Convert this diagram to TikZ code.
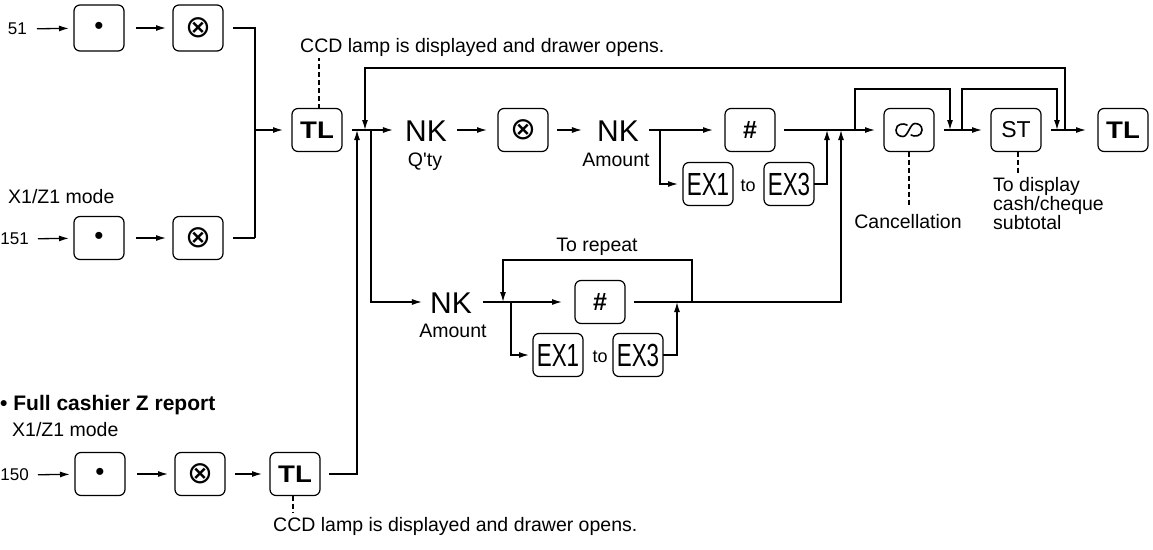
\documentclass[tikz,border=0pt]{standalone}
\usepackage{fontspec}
\setmainfont{Liberation Sans}
\newfontfamily\keyfont[FakeStretch=0.7]{Liberation Sans}
\newfontfamily\tlfont[FakeStretch=1.15]{Liberation Sans}
\newfontfamily\symfont{DejaVu Sans}
\usetikzlibrary{arrows.meta}
\begin{document}
\begin{tikzpicture}[x=1pt,y=-1pt,
  key/.style={draw, line width=1.2pt, rounded corners=6pt, minimum width=50pt, minimum height=43pt, inner sep=0pt, outer sep=0pt},
  ln/.style={line width=1.3pt},
  arr/.style={line width=1.3pt, -{Latex[length=10pt,width=6pt]}},
  dsh/.style={line width=1.2pt, dash pattern=on 5pt off 3pt},
  txt/.style={font=\fontsize{19.5}{19}\selectfont, inner sep=0pt},
  small/.style={font=\fontsize{17}{17}\selectfont, inner sep=0pt},
  nk/.style={font=\fontsize{30}{30}\selectfont, inner sep=0pt},
  dotk/.style={key, font=\fontsize{26}{26}\selectfont},
  mulk/.style={key, font=\symfont\fontsize{31}{31}\selectfont},
  hashk/.style={key, font=\bfseries\fontsize{25}{25}\selectfont},
  tlk/.style={key, font=\tlfont\bfseries\fontsize{24}{24}\selectfont},
  exk/.style={key, font=\keyfont\fontsize{32}{32}\selectfont},
  tolbl/.style={inner sep=0pt, font=\fontsize{18}{18}\selectfont},
  ]
\useasboundingbox (0,0) rectangle (1153,549);

% ---------- row 1 ----------
\node[small, anchor=east] (n51) at (27,29) {51};
\node[dotk, minimum height=46pt] (dot1) at (99,28) {•};
\node[mulk, minimum height=46pt] (mul1) at (198,28) {⊗};
\draw[arr, shorten <=10pt, shorten >=5pt] (n51) -- (dot1);
\draw[arr, shorten <=12pt, shorten >=7pt] (dot1) -- (mul1);

% ---------- row 2 ----------
\node[txt, anchor=base west] (mode1) at (8,203) {X1/Z1 mode};
\node[small, anchor=east] (n151) at (29,239) {151};
\node[dotk] (dot2) at (99,238) {•};
\node[mulk] (mul2) at (198,238) {⊗};
\draw[arr, shorten <=9pt, shorten >=5pt] (n151) -- (dot2);
\draw[arr, shorten <=12pt, shorten >=7pt] (dot2) -- (mul2);

\coordinate (c1) at (255,28);
\coordinate (c2) at (255,238);
\coordinate (c3) at (255,130);
\draw[ln, shorten <=10pt] (mul1) -- (c1) -- (c2);
\draw[ln, shorten <=10pt] (mul2) -- (c2);

% ---------- first TL ----------
\node[tlk] (tl1) at (317,130) {TL};
\draw[arr, shorten >=9pt] (c3) -- (tl1);
\node[txt, anchor=base west] (ccd1) at (300,52) {CCD lamp is displayed and drawer opens.};
\coordinate (d1) at (319,58);
\draw[dsh] (tl1.north -| d1) -- (d1);

% junction points on the main line
\coordinate (jA) at (357,130);
\coordinate (jB) at (365,130);
\coordinate (jC) at (371,130);

% ---------- upper path ----------
\node[nk] (nkq) at (426,131) {NK};
\node[txt, anchor=base] (qty) at (425,166) {Q\textquotesingle ty};
\node[mulk] (mul3) at (523,130) {⊗};
\node[nk] (nka) at (618,131) {NK};
\node[txt, anchor=base] (amt1) at (616,166) {Amount};
\node[hashk] (hash1) at (750,130) {\#};
\node[exk] (ex1a) at (708,184) {EX1};
\node[tolbl] (to1) at (748,186) {to};
\node[exk] (ex3a) at (789,184) {EX3};
\node[key] (canc) at (909,130) {};
\begin{scope}[shift={(canc.center)}]
  \draw[line width=1.6pt, line cap=round] (-2,-5) .. controls (-5,-7) and (-13,-6.5) .. (-13,0)
     .. controls (-13,5) and (-9,6.5) .. (-6,6.5)
     .. controls (-1,6.5) and (1,-6.5) .. (6,-6.5)
     .. controls (9,-6.5) and (13,-5) .. (13,0)
     .. controls (13,6.5) and (5,7) .. (2,5);
\end{scope}
\node[key, font=\fontsize{23}{23}\selectfont] (st) at (1016,130) {ST};
\node[tlk] (tl2) at (1123,130) {TL};

\draw[ln, shorten <=10pt] (tl1.east) -- (jC);
\draw[arr, shorten >=12pt] (jC) -- (nkq.west |- jC);
\draw[arr, shorten <=10pt, shorten >=11pt] (nkq.east |- jC) -- (mul3);
\draw[arr, shorten <=9pt, shorten >=15pt] (mul3) -- (nka.west |- jC);

\coordinate (b1) at (660,130);
\coordinate (b1d) at (660,184);
\draw[arr, shorten <=10pt, shorten >=12pt] (nka.east |- b1) -- (hash1);
\draw[arr, shorten >=5pt] (b1) -- (b1d) -- (ex1a);
\coordinate (e3) at (827,184);
\coordinate (e3u) at (827,130);
\draw[arr] (ex3a) -- (e3) -- (e3u);

\coordinate (lw) at (841,130);
\draw[arr, shorten <=9pt, shorten >=9pt] (hash1) -- (canc);
\draw[arr, shorten <=10pt, shorten >=9pt] (canc) -- (st);
\draw[arr, shorten <=10pt, shorten >=12pt] (st) -- (tl2);

% bypass of cancellation
\coordinate (p1) at (855,130);
\coordinate (p2) at (855,89);
\coordinate (p3) at (950,89);
\coordinate (p4) at (950,130);
\draw[arr] (p1) -- (p2) -- (p3) -- (p4);
% bypass of ST
\coordinate (q1) at (962,130);
\coordinate (q2) at (962,89);
\coordinate (q3) at (1057,89);
\coordinate (q4) at (1057,130);
\draw[arr] (q1) -- (q2) -- (q3) -- (q4);
% big loop back
\coordinate (r1) at (1065,130);
\coordinate (r2) at (1065,68);
\coordinate (r3) at (365,68);
\draw[arr] (r1) -- (r2) -- (r3) -- (jB);

% annotations
\coordinate (dc) at (909,205);
\draw[dsh] (canc.south) -- (dc);
\node[txt, anchor=base] (cancl) at (908,228) {Cancellation};
\coordinate (ds) at (1018,175);
\draw[dsh] (st.south -| ds) -- (ds);
\node[txt, anchor=north west, align=left] (stl) at (993,177) {To display\\cash/cheque\\subtotal};

% ---------- lower path ----------
\coordinate (jCd) at (371,302);
\node[nk] (nk3) at (451,303) {NK};
\node[txt, anchor=base] (amt2) at (453,337) {Amount};
\node[hashk] (hash2) at (600,302) {\#};
\node[exk] (ex1b) at (558,355) {EX1};
\node[tolbl] (to2) at (600,357) {to};
\node[exk] (ex3b) at (638,355) {EX3};
\draw[arr, shorten >=8pt] (jC) -- (jCd) -- (nk3.west |- jCd);
\draw[arr, shorten <=11pt, shorten >=13pt] (nk3.east |- jCd) -- (hash2);

\node[txt, anchor=base] (rep) at (597,251) {To repeat};
\coordinate (s1) at (692,302);
\coordinate (s2) at (692,260);
\coordinate (s3) at (503,260);
\coordinate (s4) at (503,302);
\draw[arr] (s1) -- (s2) -- (s3) -- (s4);

\coordinate (b2) at (511,302);
\coordinate (b2d) at (511,355);
\draw[arr, shorten >=4pt] (b2) -- (b2d) -- (ex1b);
\coordinate (e4) at (677,355);
\coordinate (e4u) at (677,302);
\draw[arr] (ex3b) -- (e4) -- (e4u);

\coordinate (lwd) at (841,302);
\draw[arr, shorten <=9pt] (hash2) -- (lwd) -- (lw);

% ---------- full cashier Z report ----------
\node[txt, anchor=base west, font=\bfseries\fontsize{21}{21}\selectfont] (head) at (0,410) {• Full cashier Z report};
\node[txt, anchor=base west] (mode2) at (12,436) {X1/Z1 mode};
\node[small, anchor=east] (n150) at (29,475) {150};
\node[dotk] (dot3) at (100,474) {•};
\node[mulk] (mul4) at (200,474) {⊗};
\node[tlk] (tl3) at (295,474) {TL};
\draw[arr, shorten <=9pt, shorten >=5pt] (n150) -- (dot3);
\draw[arr, shorten <=12pt, shorten >=7pt] (dot3) -- (mul4);
\draw[arr, shorten <=10pt, shorten >=8pt] (mul4) -- (tl3);
\coordinate (t3) at (357,474);
\draw[arr, shorten <=9pt] (tl3) -- (t3) -- (jA);
\coordinate (d3) at (293,512);
\draw[dsh] (tl3.south -| d3) -- (d3);
\node[txt, anchor=base west] (ccd2) at (273,531) {CCD lamp is displayed and drawer opens.};
\end{tikzpicture}
\end{document}
